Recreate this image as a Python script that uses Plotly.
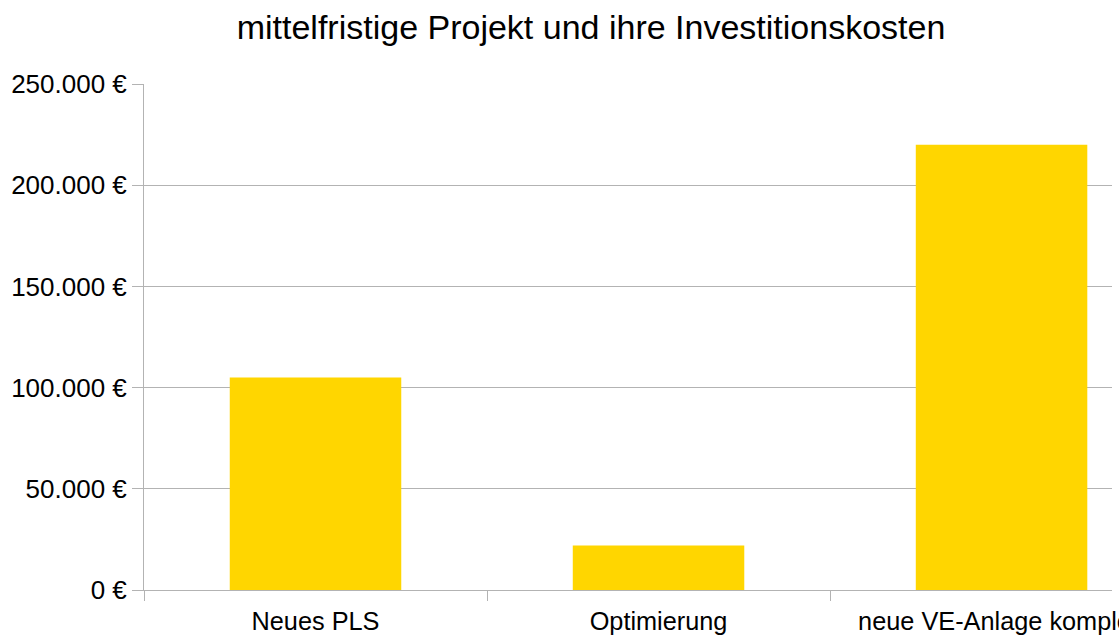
import plotly.graph_objects as go

categories = ["Neues PLS", "Optimierung", "neue VE-Anlage komplett"]
values = [105000, 22000, 220000]
y_tickvals = [0, 50000, 100000, 150000, 200000, 250000]
y_ticktext = ["0 €", "50.000 €", "100.000 €", "150.000 €", "200.000 €", "250.000 €"]
title_text = "mittelfristige Projekt und ihre Investitionskosten"

GRID = "#b3b3b3"
FONT = "Liberation Sans, Arial, sans-serif"

fig = go.Figure(
    go.Bar(x=categories, y=values, marker=dict(color="#FFD600", line=dict(width=0)), width=0.5)
)

fig.update_layout(
    width=1119,
    height=640,
    margin=dict(l=144, r=7, t=84, b=50, autoexpand=False),
    paper_bgcolor="white",
    plot_bgcolor="white",
    font=dict(family=FONT, size=26, color="black"),
    title=dict(text=title_text, x=591 / 1119, xanchor="center", xref="container", y=1 - 27 / 640,
               yref="container", yanchor="middle", font=dict(size=34, family=FONT, color="black")),
    showlegend=False,
)

fig.update_xaxes(
    range=[-0.5, 2.322],
    automargin=False,
    tickson="boundaries",
    ticks="outside",
    ticklen=10,
    tickcolor=GRID,
    tickwidth=1,
    ticklabelstandoff=9,
    showline=True,
    linecolor=GRID,
    linewidth=1,
    showgrid=False,
    tickfont=dict(size=25.3, family=FONT, color="black"),
)
fig.update_yaxes(
    range=[0, 250000],
    automargin=False,
    tickvals=y_tickvals,
    ticktext=y_ticktext,
    ticks="outside",
    ticklen=11,
    tickcolor=GRID,
    tickwidth=1,
    showline=True,
    linecolor=GRID,
    linewidth=1,
    showgrid=True,
    gridcolor=GRID,
    gridwidth=1,
    zeroline=False,
    tickfont=dict(size=26, family=FONT, color="black"),
)

fig.write_html("out.html")
